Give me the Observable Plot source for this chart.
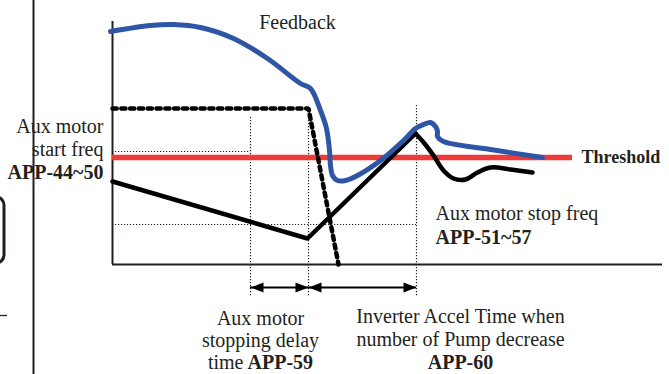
<!DOCTYPE html>
<html>
<head>
<meta charset="utf-8">
<script src="https://cdn.jsdelivr.net/npm/d3@7"></script>
<script src="https://cdn.jsdelivr.net/npm/@observablehq/plot@0.6"></script>
<style>
  html, body { margin: 0; padding: 0; background: #fff; }
  #chart svg { display: block; }
</style>
</head>
<body>
<div id="chart"></div>
<script>
// Data units: t = time (0 at the vertical axis), v = level (0 at the time axis)
const feedback = [
  [-2,233],[38,239],[61,240],[88,237],[121,226],[155,206],[188,181],[198,176],
  [208,154],[214,136],[217,114],[218,99],[220,89],[225,84],[233,84],[245,89],
  [268,104],[291,124],[303,136],[311,140],[318,142],[323,138],[325,133],[325,128],
  [331,123],[378,115],[430,107]
];
const outputRamp = [[0,83],[195,26],[303,131]];
const outputSettle = [[303,131],[312,121],[321,109],[331,94],[341,86],[353,85],[365,92],[378,97],[398,95],[420,92]];
const auxMotor = [[0,156],[196,156],[226,0]];
const threshold = 107;
const thresholdEnd = 460;
const axisTop = 243;
const axisRight = 550;
const guideV = [{t:138, v1:147, v2:-33}, {t:196, v1:156, v2:-33}, {t:304, v1:159, v2:-33}];
const guideH = [{v:113, t1:0, t2:138}, {v:40, t1:0, t2:304}];
const spans = [{t1:138, t2:196, v:-23}, {t1:196, t2:304, v:-23}];

const regular = [
  {t:185, v:242, s:"Feedback", a:"middle"},
  {t:-9, v:138, s:"Aux motor", a:"end"},
  {t:-9, v:115, s:"start freq", a:"end"},
  {t:323, v:51, s:"Aux motor stop freq", a:"start"},
  {t:148, v:-54, s:"Aux motor", a:"middle"},
  {t:148, v:-76, s:"stopping delay", a:"middle"},
  {t:131, v:-98, s:"time", a:"end"},
  {t:348, v:-52, s:"Inverter Accel Time when", a:"middle"},
  {t:348, v:-75, s:"number of Pump decrease", a:"middle"}
];
const bold = [
  {t:-9, v:92, s:"APP-44~50", a:"end"},
  {t:323, v:27, s:"APP-51~57", a:"start"},
  {t:135, v:-98, s:"APP-59", a:"start"},
  {t:348, v:-98, s:"APP-60", a:"middle"}
];

const headRight = {draw(c) { c.moveTo(0,0); c.lineTo(-13,-5); c.lineTo(-13,5); c.closePath(); }};
const headLeft  = {draw(c) { c.moveTo(0,0); c.lineTo(13,-5); c.lineTo(13,5); c.closePath(); }};

const ink = "#231f20";
const font = "Liberation Serif, Times New Roman, serif";

function labels(rows, weight) {
  return ["start", "middle", "end"].map(a =>
    Plot.text(rows.filter(d => d.a === a), {x: "t", y: "v", text: "s", textAnchor: a, fontFamily: font, fontSize: 20, fontWeight: weight, fill: ink})
  );
}

const chart = Plot.plot({
  width: 669,
  height: 374,
  margin: 0,
  x: {domain: [-112, 557], axis: null},
  y: {domain: [-110, 264], axis: null},
  style: {background: "#fff"},
  marks: [
    // page fragments on the left
    Plot.ruleX([-79], {y1: -110, y2: 264, stroke: ink, strokeWidth: 2}),
    Plot.rect([0], {x1: -140, x2: -108, y1: 1, y2: 67, stroke: ink, strokeWidth: 3, fill: "none", rx: 8, clip: true}),
    Plot.ruleY([-51], {x1: -112, x2: -105, stroke: ink, strokeWidth: 1.3}),
    // axes
    Plot.ruleX([0], {y1: 0, y2: axisTop, stroke: ink, strokeWidth: 2}),
    Plot.ruleY([0], {x1: 0, x2: axisRight, stroke: ink, strokeWidth: 2}),
    // thin dotted guides
    Plot.ruleX(guideV, {x: "t", y1: "v1", y2: "v2", stroke: ink, strokeWidth: 1.2, strokeDasharray: "1.2,1.8"}),
    Plot.ruleY(guideH, {y: "v", x1: "t1", x2: "t2", stroke: ink, strokeWidth: 1.2, strokeDasharray: "1.2,1.8"}),
    // threshold
    Plot.ruleY([threshold], {x1: 0, x2: thresholdEnd, stroke: "#ef3a3a", strokeWidth: 5.5}),
    // aux motor (dotted thick)
    Plot.line(auxMotor, {x: d => d[0], y: d => d[1], stroke: "#000", strokeWidth: 4.5, strokeDasharray: "4.2,4.6", strokeLinejoin: "miter"}),
    // output frequency
    Plot.line(outputRamp, {x: d => d[0], y: d => d[1], stroke: "#000", strokeWidth: 4.5, strokeLinejoin: "miter"}),
    Plot.line(outputSettle, {x: d => d[0], y: d => d[1], stroke: "#000", strokeWidth: 4.5, curve: "catmull-rom", strokeLinejoin: "round"}),
    // feedback
    Plot.line(feedback, {x: d => d[0], y: d => d[1], stroke: "#2f56a6", strokeWidth: 5, curve: "catmull-rom", strokeLinejoin: "round"}),
    // time spans
    Plot.ruleY(spans, {y: "v", x1: "t1", x2: "t2", stroke: "#000", strokeWidth: 2}),
    Plot.dot(spans, {x: "t1", y: "v", symbol: headLeft, r: 5, fill: "#000", stroke: "none"}),
    Plot.dot(spans, {x: "t2", y: "v", symbol: headRight, r: 5, fill: "#000", stroke: "none"}),
    // labels
    ...labels(regular, "normal"),
    ...labels(bold, "bold"),
    Plot.text(["Threshold"], {x: 469, y: threshold, textAnchor: "start", fontFamily: font, fontSize: 18, fontWeight: "bold", fill: ink})
  ]
});
document.getElementById("chart").append(chart);
</script>
</body>
</html>
